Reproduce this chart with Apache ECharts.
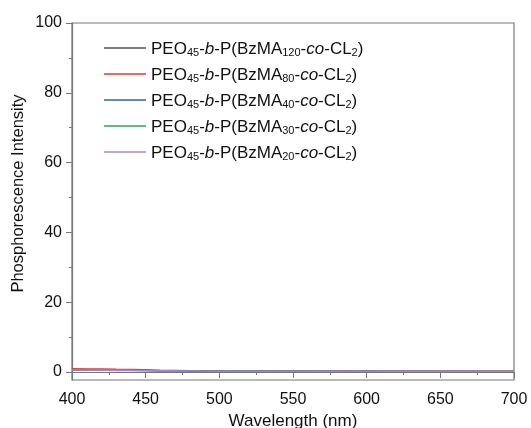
<!DOCTYPE html>
<html><head><meta charset="utf-8">
<script src="https://cdn.jsdelivr.net/npm/echarts@6/dist/echarts.min.js"></script>
<style>html,body{margin:0;padding:0;background:#fff}#c{width:531px;height:428px}</style>
</head><body><div id="c"></div>
<script>
const wavelengths = [400,410,420,430,440,450,460,470,480,490,500,510,520,530,540,550,560,570,580,590,600,610,620,630,640,650,660,670,680,690,700];
const seriesNames = ['BzMA120','BzMA80','BzMA40','BzMA30','BzMA20'];
const subs = ['120','80','40','30','20'];
const colors = ['#555555','#e03a3a','#2f5fa8','#2ea06a','#a98ad6'];
const vBzMA120 = [0.62,0.58,0.55,0.50,0.47,0.42,0.38,0.35,0.31,0.30,0.28,0.27,0.27,0.25,0.26,0.24,0.25,0.23,0.24,0.23,0.24,0.22,0.23,0.22,0.23,0.22,0.22,0.21,0.22,0.21,0.21];
const vBzMA80  = [0.95,0.90,0.86,0.80,0.76,0.66,0.55,0.46,0.38,0.34,0.32,0.30,0.31,0.29,0.30,0.28,0.29,0.28,0.29,0.27,0.28,0.27,0.28,0.26,0.27,0.27,0.26,0.27,0.26,0.25,0.26];
const vBzMA40  = [0.55,0.52,0.48,0.45,0.42,0.38,0.34,0.31,0.28,0.27,0.25,0.25,0.24,0.23,0.24,0.22,0.23,0.22,0.22,0.21,0.22,0.21,0.21,0.20,0.21,0.20,0.21,0.20,0.20,0.19,0.20];
const vBzMA30  = [0.50,0.47,0.44,0.41,0.38,0.35,0.31,0.28,0.26,0.25,0.23,0.23,0.22,0.22,0.21,0.21,0.21,0.20,0.21,0.20,0.20,0.19,0.20,0.19,0.19,0.19,0.19,0.18,0.19,0.18,0.18];
const vBzMA20  = [0.58,0.55,0.51,0.47,0.44,0.40,0.36,0.33,0.30,0.28,0.27,0.26,0.26,0.25,0.25,0.24,0.25,0.24,0.24,0.23,0.24,0.23,0.23,0.22,0.23,0.22,0.23,0.22,0.22,0.21,0.22];
const seriesValues = [vBzMA120, vBzMA80, vBzMA40, vBzMA30, vBzMA20];
const xTicks = [400,450,500,550,600,650,700];
const yTicks = [0,20,40,60,80,100];
const yMinorTicks = [10,30,50,70,90];
const yMin = -2.3, yMax = 100;

const chart = echarts.init(document.getElementById('c'), null, {renderer:'canvas'});
const FONT = 'Liberation Sans, Arial, sans-serif';
const richStyles = {
  n: {fontSize:17, fontFamily:FONT, color:'#111', lineHeight:20, verticalAlign:'bottom'},
  i: {fontSize:17, fontFamily:FONT, fontStyle:'italic', color:'#111', lineHeight:20, verticalAlign:'bottom'},
  s: {fontSize:11, fontFamily:FONT, color:'#111', lineHeight:8, verticalAlign:'bottom'}
};
function legendLabel(name){
  const idx = seriesNames.indexOf(name);
  return '{n|PEO}{s|45}{n|-}{i|b}{n|-P(BzMA}{s|' + subs[idx] + '}{n|-}{i|co}{n|-CL}{s|2}{n|)}';
}
const series = seriesNames.map((nm,k)=>({
  name: nm, type:'line', symbol:'none', showSymbol:false,
  lineStyle:{width:1.2, color:colors[k]}, itemStyle:{color:colors[k]},
  data: wavelengths.map((w,j)=>[w, seriesValues[k][j]]),
  animation:false
}));
chart.setOption({
  backgroundColor:'#fff',
  animation:false,
  grid:{left:72, right:17, top:23, bottom:48, show:true, borderColor:'#777', borderWidth:1.2,
    containLabel:false, outerBoundsMode:'none'},
  legend:{
    left:104, top:41, padding:0, orient:'vertical', icon:'rect', itemWidth:42, itemHeight:1.5, itemGap:9,
    data: seriesNames,
    formatter: legendLabel,
    textStyle:{rich:richStyles}
  },
  xAxis:{
    type:'value', min:400, max:700, interval:50,
    name:'Wavelength (nm)', nameLocation:'middle', nameGap:33, nameMoveOverlap:false,
    nameTextStyle:{fontSize:17, fontFamily:FONT, color:'#111'},
    axisLine:{lineStyle:{color:'#777', width:1.2}},
    axisTick:{show:true, inside:false, length:6, lineStyle:{color:'#777'}},
    minorTick:{show:true, splitNumber:2, length:3, lineStyle:{color:'#777'}},
    axisLabel:{fontSize:16, fontFamily:FONT, color:'#111', margin:12,
      customValues: xTicks},
    splitLine:{show:false}
  },
  yAxis:[{
    type:'value', min:yMin, max:yMax,
    name:'Phosphorescence Intensity', nameLocation:'middle', nameGap:45, nameMoveOverlap:false,
    nameTextStyle:{fontSize:16.5, fontFamily:FONT, color:'#111', padding:[0,0,0,16]},
    axisLine:{show:true, lineStyle:{color:'#777', width:1.2}},
    axisTick:{show:true, inside:false, length:6, lineStyle:{color:'#777'}, customValues:yTicks},
    axisLabel:{fontSize:16, fontFamily:FONT, color:'#111', margin:10, customValues:yTicks},
    splitLine:{show:false}
  },{
    type:'value', min:yMin, max:yMax, position:'left',
    axisLine:{show:false},
    axisTick:{show:true, inside:false, length:3, lineStyle:{color:'#777'}, customValues:yMinorTicks},
    axisLabel:{show:false},
    splitLine:{show:false}
  }],
  series: series
});
</script></body></html>
